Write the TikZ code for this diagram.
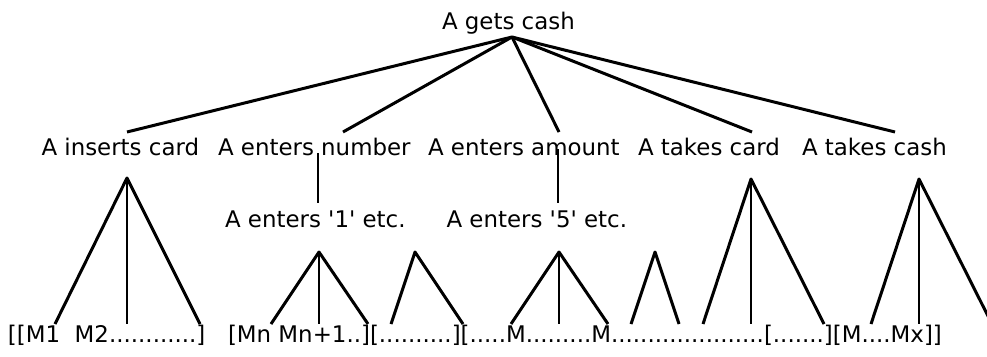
\documentclass[tikz,border=0pt]{standalone}
\usepackage{fontspec}
\setmainfont{DejaVu Sans}[Ligatures=TeXOff]
\begin{document}
\begin{tikzpicture}[x=1pt,y=-1pt,
  lbl/.style={anchor=base west, inner sep=0pt, outer sep=0pt, font=\fontsize{22.9}{27}\selectfont},
  thk/.style={line width=3pt, line join=round},
  thn/.style={line width=2pt}]
\useasboundingbox (0,0) rectangle (987,356);
% labels
\node[lbl] (root) at (442,29) {A gets cash};
\node[lbl] (ins) at (41.5,155) {A inserts card};
\node[lbl] (num) at (218,155) {A enters number};
\node[lbl] (amt) at (428,155) {A enters amount};
\node[lbl] (tcard) at (638,155) {A takes card};
\node[lbl] (tcash) at (802,155) {A takes cash};
\node[lbl] (one) at (225,227) {A enters '1' etc.};
\node[lbl] (five) at (446.5,227) {A enters '5' etc.};
\node[lbl] (bota) at (8,342) {[[M1\ \ M2............]};
\node[lbl] (botb) at (228,342) {[Mn Mn+1..][..........][.....M.........M.....................[.......][M....Mx]]};
% top fan
\coordinate (top) at (512,37);
\coordinate (e1) at (127,132);
\coordinate (e2) at (343,132);
\coordinate (e3) at (559,132);
\coordinate (e4) at (752,132);
\coordinate (e5) at (895,132);
\draw[thk] (top) -- (e1);
\draw[thk] (top) -- (e2);
\draw[thk] (top) -- (e3);
\draw[thk] (top) -- (e4);
\draw[thk] (top) -- (e5);
% verticals to sub labels
\coordinate (v1a) at (318,153); \coordinate (v1b) at (318,203);
\coordinate (v2a) at (558,149); \coordinate (v2b) at (558,203);
\draw[thn] (v1a) -- (v1b);
\draw[thn] (v2a) -- (v2b);
% triangles
\coordinate (t1) at (127,178);
\draw[thk] (55,324) -- (t1) -- (200,324);
\draw[thn] (t1) -- (127,324);
\coordinate (t2) at (319,252);
\draw[thk] (271,324) -- (t2) -- (368,324);
\draw[thn] (t2) -- (319,324);
\coordinate (t3) at (415,252);
\draw[thk] (391,324) -- (t3) -- (463,324);
\coordinate (t4) at (559,252);
\draw[thk] (511,324) -- (t4) -- (608,324);
\draw[thn] (t4) -- (559,324);
\coordinate (t5) at (655,252);
\draw[thk] (631,324) -- (t5) -- (679,324);
\coordinate (t6) at (751,179);
\draw[thk] (703,324) -- (t6) -- (824,324);
\draw[thn] (t6) -- (751,324);
\coordinate (t7) at (919,179);
\draw[thk] (871,324) -- (t7) -- (992,324);
\draw[thn] (t7) -- (919,324);
\end{tikzpicture}
\end{document}
